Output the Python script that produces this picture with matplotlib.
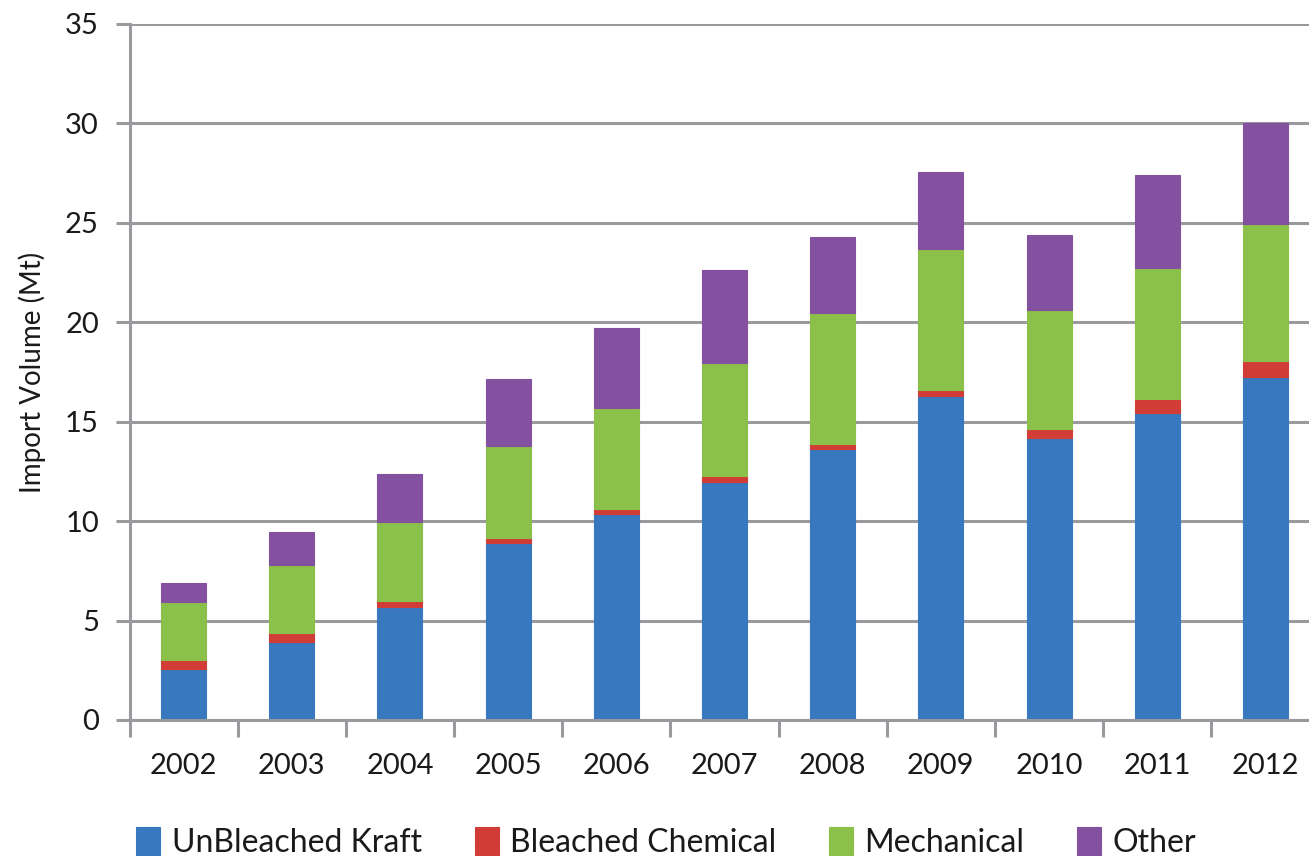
import numpy as np
import matplotlib.pyplot as plt

plt.rcParams['font.family'] = ['Lato', 'DejaVu Sans']

years = ['2002', '2003', '2004', '2005', '2006', '2007', '2008', '2009', '2010', '2011', '2012']
unbleached_kraft = [2.56, 3.94, 5.68, 8.90, 10.36, 11.98, 13.62, 16.30, 14.19, 15.43, 17.26]
bleached_chemical = [0.46, 0.43, 0.30, 0.25, 0.25, 0.29, 0.26, 0.29, 0.44, 0.71, 0.79]
mechanical = [2.91, 3.42, 3.97, 4.64, 5.08, 5.68, 6.58, 7.09, 5.98, 6.60, 6.89]
other = [0.96, 1.66, 2.42, 3.35, 4.02, 4.67, 3.82, 3.87, 3.79, 4.66, 5.06]

series = [
    ('UnBleached Kraft', unbleached_kraft, '#3778BE'),
    ('Bleached Chemical', bleached_chemical, '#D13C37'),
    ('Mechanical', mechanical, '#8BC04A'),
    ('Other', other, '#8451A1'),
]

fig = plt.figure(figsize=(13.09, 8.56), dpi=100)
ax = fig.add_axes([129.5 / 1309, 1 - 720 / 856, 1190 / 1309, 696 / 856])

x = np.arange(len(years))
bottom = np.zeros(len(years))
for name, vals, col in series:
    ax.bar(x, vals, width=0.416, bottom=bottom, color=col, label=name,
           edgecolor=col, linewidth=0.8, zorder=3)
    bottom += np.array(vals)

grid_col = '#9A9A9E'
ax.set_ylim(0, 35)
ax.set_yticks(range(0, 36, 5))
ax.set_xlim(-0.5, len(years) - 0.5)
ax.yaxis.grid(True, color=grid_col, linewidth=2.2, zorder=0)
ax.tick_params(axis='y', length=10, width=2.2, color=grid_col, labelsize=21,
               labelcolor='#1a1a1a', pad=12)

# category labels in the middle, tick marks on the boundaries
ax.set_xticks(x)
ax.set_xticklabels(years)
ax.set_xticks(np.arange(-0.5, len(years), 1.0), minor=True)
ax.tick_params(axis='x', which='major', length=0, labelsize=21,
               labelcolor='#1a1a1a', pad=24)
ax.tick_params(axis='x', which='minor', length=12, width=2.2, color=grid_col)

for side in ['top', 'right']:
    ax.spines[side].set_visible(False)
for side in ['left', 'bottom']:
    ax.spines[side].set_color(grid_col)
    ax.spines[side].set_linewidth(2.2)
    ax.spines[side].set_zorder(4)

ax.set_ylabel('Import Volume (Mt)', fontsize=20, color='#1a1a1a', labelpad=14)

fig.legend(loc='lower center', bbox_to_anchor=(0.509, -0.036), ncol=4,
           frameon=False, fontsize=23, handlelength=0.75, handleheight=0.95,
           handletextpad=0.35, columnspacing=1.66, labelcolor='#1a1a1a')

fig.savefig('out.png', dpi=100)
